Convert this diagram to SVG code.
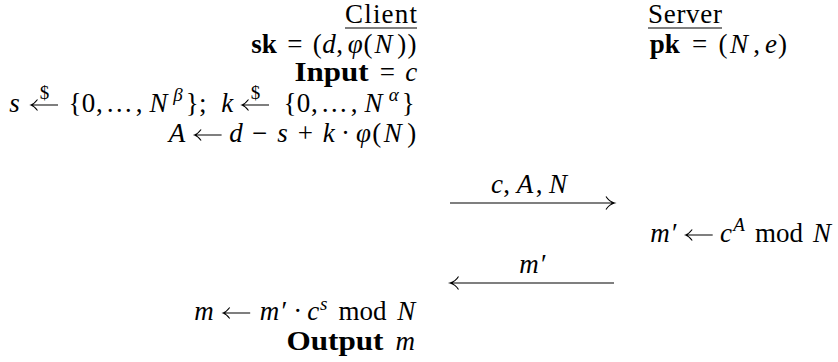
<svg xmlns="http://www.w3.org/2000/svg" width="838" height="362" viewBox="0 0 838 362">
<style>
.t{font-family:"Liberation Serif","Times New Roman",serif;font-size:27px;fill:#000;text-anchor:middle}
.i{font-style:italic}
.b{font-weight:bold}
.s{font-size:19px}
.ul{stroke:#000;stroke-width:1.1;fill:none}
.ar{stroke:#000;stroke-width:1.1;fill:none}
</style>
<defs>
<path id="la" class="ar" d="M0,0 H27 M6.5,-5.5 Q3,-1 0,0 Q3,1 6.5,5.5"/>
</defs>
<rect width="838" height="362" fill="#fff"/>
<g id="client-title">
<text class="t" x="417" y="23" style="text-anchor:end" textLength="72">Client</text>
<line class="ul" x1="345" y1="28" x2="417" y2="28"/>
</g>
<g id="server-title">
<text class="t" x="648" y="23" style="text-anchor:start" textLength="74">Server</text>
<line class="ul" x1="648" y1="28" x2="722" y2="28"/>
</g>
<g id="client-key">
<text class="t b" x="263.9" y="53">sk</text>
<text class="t" y="53"><tspan x="294.9">=</tspan><tspan x="317.3">(</tspan><tspan class="i" x="329.1">d</tspan><tspan x="339.5">,</tspan><tspan class="i" x="355.2">φ</tspan><tspan x="368">(</tspan><tspan class="i" x="383.5">N</tspan><tspan x="401.8">)</tspan><tspan x="411.9">)</tspan></text>
</g>
<g id="server-key">
<text class="t b" x="664.8" y="53">pk</text>
<text class="t" y="53"><tspan x="699.7">=</tspan><tspan x="722.9">(</tspan><tspan class="i" x="739">N</tspan><tspan x="756.5">,</tspan><tspan class="i" x="771.1">e</tspan><tspan x="782.6">)</tspan></text>
</g>
<g id="client-input">
<text class="t b" x="331.5" y="81" textLength="74" lengthAdjust="spacingAndGlyphs">Input</text>
<text class="t" y="81"><tspan x="387.3">=</tspan><tspan class="i" x="411.2">c</tspan></text>
</g>
<g id="client-sample">
<text class="t" y="112"><tspan class="i" x="14.4">s</tspan><tspan x="74.9">{</tspan><tspan x="88.6">0</tspan><tspan x="99.3">,</tspan><tspan x="119.2">…</tspan><tspan x="139">,</tspan><tspan class="i" x="158.5">N</tspan><tspan class="i s" x="178" y="101">β</tspan><tspan x="192.2" y="112">}</tspan><tspan x="202.8">;</tspan><tspan class="i" x="227.2">k</tspan><tspan x="289.9">{</tspan><tspan x="303.6">0</tspan><tspan x="314.3">,</tspan><tspan x="334.2">…</tspan><tspan x="354">,</tspan><tspan class="i" x="373.5">N</tspan><tspan class="i s" x="393.8" y="101">α</tspan><tspan x="408.2" y="112">}</tspan></text>
<use href="#la" x="31" y="105"/>
<use href="#la" x="242" y="105"/>
<text class="t s" y="99"><tspan x="44.5">$</tspan><tspan x="255.5">$</tspan></text>
</g>
<g id="client-compute-a">
<text class="t" y="142"><tspan class="i" x="176.9">A</tspan><tspan class="i" x="236.1">d</tspan><tspan x="259.6">−</tspan><tspan class="i" x="282.4">s</tspan><tspan x="305.3">+</tspan><tspan class="i" x="328.8">k</tspan><tspan x="345.6">·</tspan><tspan class="i" x="363.4">φ</tspan><tspan x="376.7">(</tspan><tspan class="i" x="392.8">N</tspan><tspan x="411.8">)</tspan></text>
<use href="#la" x="194.6" y="135"/>
</g>
<g id="server-compute">
<text class="t" y="242"><tspan class="i" x="659.9">m</tspan><tspan x="675">′</tspan><tspan class="i" x="726.1">c</tspan><tspan class="i s" x="739" y="231">A</tspan><tspan x="779" y="242">mod</tspan><tspan class="i" x="822">N</tspan></text>
<use href="#la" x="685.7" y="235"/>
</g>
<g id="client-decrypt">
<text class="t" y="320"><tspan class="i" x="203.9">m</tspan><tspan class="i" x="269.6">m</tspan><tspan x="284.5">′</tspan><tspan x="297.7">·</tspan><tspan class="i" x="313.3">c</tspan><tspan class="i s" x="323.6" y="310">s</tspan><tspan x="362.4" y="320">mod</tspan><tspan class="i" x="406.2">N</tspan></text>
<use href="#la" x="223.2" y="313"/>
</g>
<g id="client-output">
<text class="t b" x="335" y="350" textLength="97" lengthAdjust="spacingAndGlyphs">Output</text>
<text class="t i" x="405.2" y="350">m</text>
</g>
<g id="connectors">
<g id="msg-1">
<path class="ar" d="M450,203 H613 M606,196.5 Q609,201.5 614.5,203 Q609,204.5 606,209.5"/>
<text class="t" y="193"><tspan class="i" x="497">c</tspan><tspan x="506.7">,</tspan><tspan class="i" x="525">A</tspan><tspan x="539">,</tspan><tspan class="i" x="558">N</tspan></text>
</g>
<g id="msg-2">
<path class="ar" d="M451,283 H614 M458.5,276.5 Q455.5,281.5 450,283 Q455.5,284.5 458.5,289.5"/>
<text class="t" y="273"><tspan class="i" x="529">m</tspan><tspan x="544">′</tspan></text>
</g>
</g>
</svg>
